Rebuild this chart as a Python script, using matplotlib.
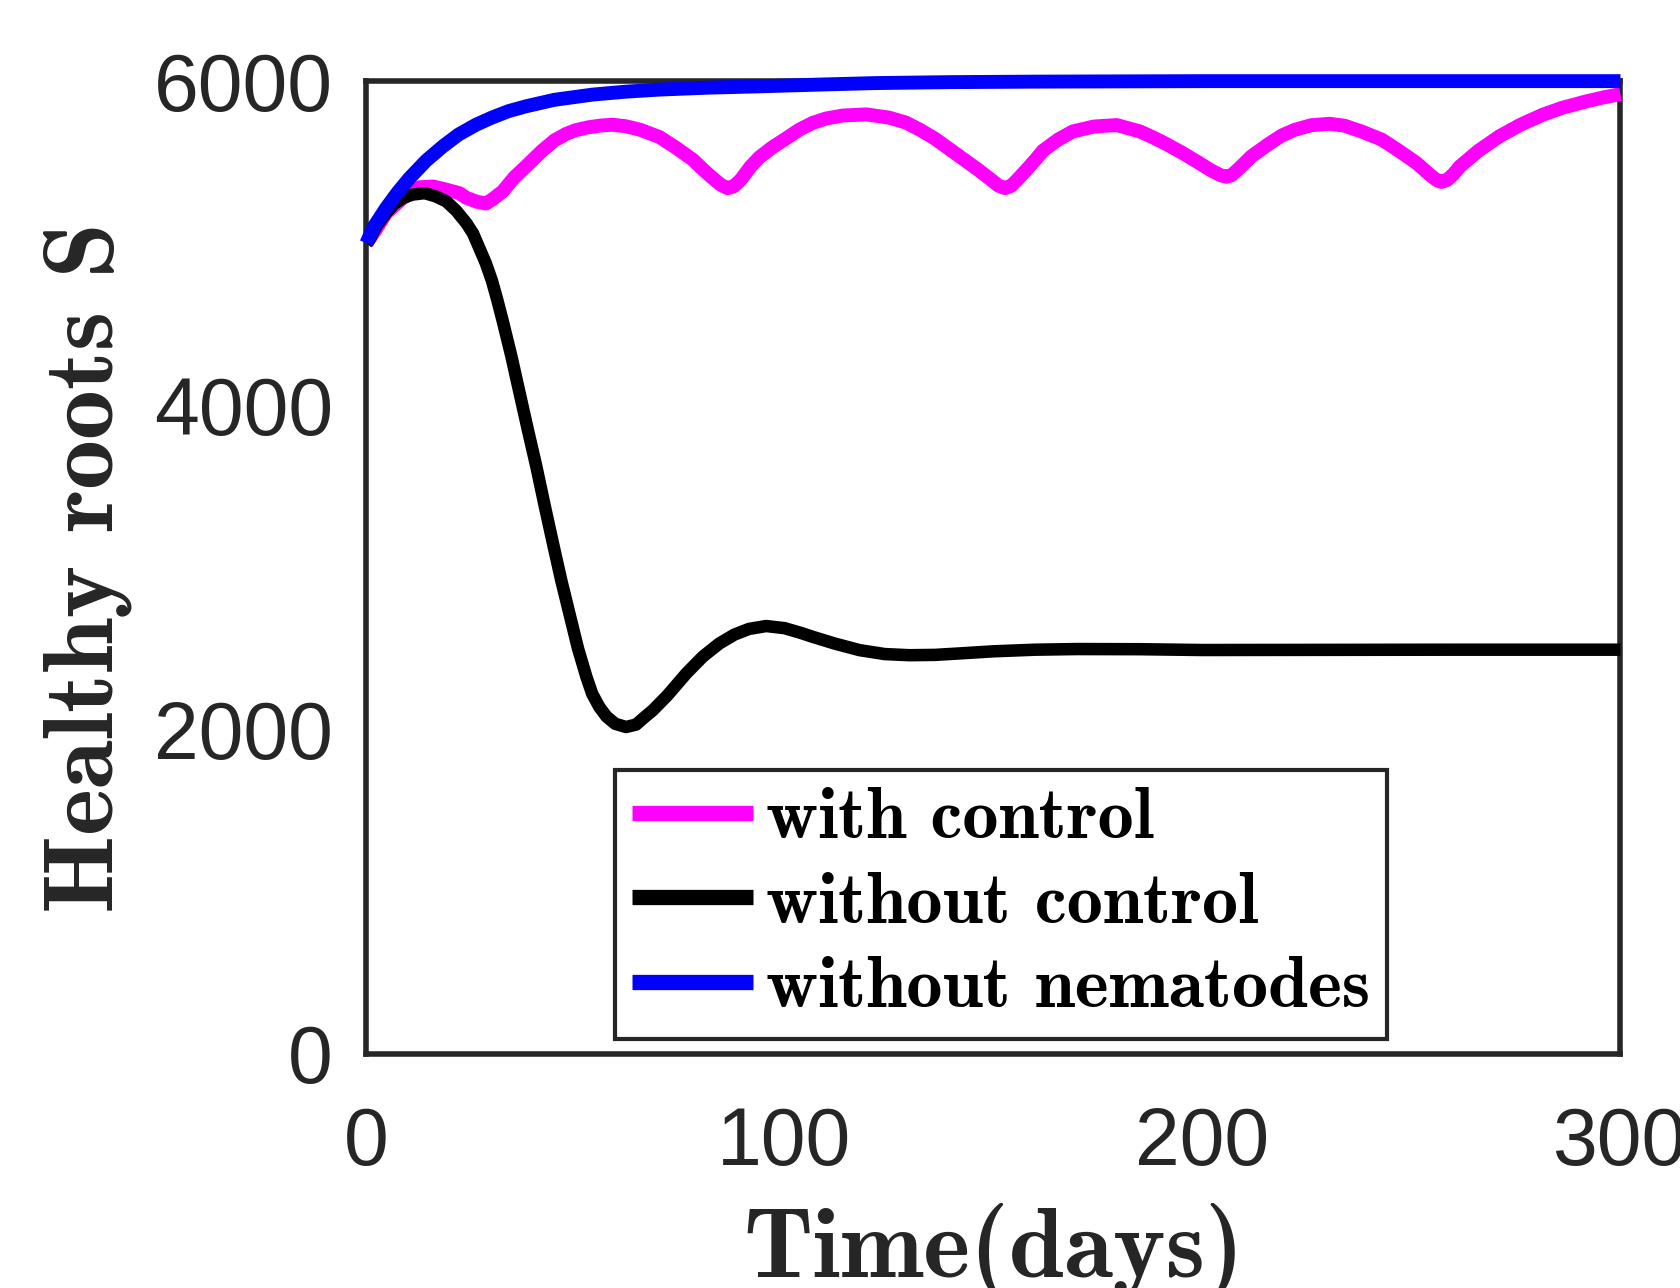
import matplotlib
matplotlib.use("Agg")
import matplotlib.pyplot as plt

# time (days) and healthy roots S
t_ctrl = [0, 2, 4.7, 8.7, 12.7, 15.9, 18.3, 22.2, 23.9, 26.5, 28.6, 30.2, 32.6, 35.5,
          38.2, 42, 45, 47.8, 50, 53, 56, 58.9, 62, 65.5, 70.1, 74, 78.1, 80.5, 82.9,
          84.8, 86.4, 87.8, 89.5, 91.8, 94, 97, 100.3, 103.5, 106.7, 110, 114, 119.6,
          125, 129, 132.4, 136, 139.5, 143, 146.5, 149.5, 151.2, 152.8, 154.3, 156,
          158.5, 160.2, 161.8, 165.5, 169, 174, 179.5, 185, 188, 190.9, 195, 199.2, 202,
          204.3, 205.7, 207, 208.7, 211.7, 216, 219, 222.1, 226, 230.4, 234, 238, 242.9,
          247, 251.2, 254.5, 256, 257.2, 258.5, 260, 261.6, 266, 271, 276, 281.4, 286,
          291.8, 296, 300]
s_ctrl = [5000, 5075, 5186, 5279, 5345, 5350, 5336, 5309, 5280, 5255, 5245, 5272, 5320,
          5410, 5475, 5570, 5635, 5675, 5697, 5715, 5726, 5731, 5722, 5700, 5655, 5590,
          5515, 5455, 5400, 5360, 5340, 5350, 5390, 5470, 5530, 5590, 5645, 5700, 5742,
          5770, 5788, 5795, 5775, 5745, 5700, 5645, 5580, 5515, 5450, 5390, 5355, 5340,
          5355, 5400, 5470, 5520, 5570, 5640, 5690, 5720, 5729, 5690, 5655, 5618, 5560,
          5495, 5450, 5420, 5410, 5420, 5460, 5536, 5615, 5665, 5700, 5728, 5737, 5725,
          5690, 5639, 5570, 5495, 5420, 5390, 5378, 5390, 5425, 5474, 5570, 5659, 5730,
          5793, 5835, 5875, 5900, 5920]

t_noctrl = [0, 0.7, 2.5, 4.7, 6.5, 8.7, 11, 13.9, 16.5, 19.1, 21.5, 23.9, 25.5, 27, 28.5,
            30, 31.3, 32.6, 34.6, 36.6, 38.6, 40.6, 42.6, 44.6, 46.6, 48.6, 50.6, 52.6,
            54, 55.7, 57.4, 59.5, 62.1, 64.5, 66.5, 68.5, 72, 76.5, 80.5, 84.4, 88, 91.5,
            95.6, 100, 104, 106.8, 112, 118, 124, 129.9, 136, 141.9, 150, 160, 170, 185,
            200, 230, 260, 300]
s_noctrl = [5000, 5021, 5110, 5186, 5240, 5279, 5300, 5309, 5290, 5258, 5200, 5124, 5060,
            4970, 4880, 4770, 4650, 4520, 4310, 4080, 3850, 3627, 3385, 3150, 2920, 2710,
            2500, 2326, 2220, 2139, 2080, 2035, 2015, 2030, 2075, 2118, 2210, 2345, 2450,
            2530, 2585, 2620, 2638, 2625, 2595, 2571, 2530, 2489, 2465, 2458, 2460, 2469,
            2482, 2492, 2496, 2495, 2490, 2491, 2492, 2492]

t_nonem = [0, 1.5, 3, 4.7, 7.5, 10.3, 14.3, 18.3, 22, 26.2, 30, 34, 38.2, 45, 54.1, 62,
           70.1, 82, 94, 110, 121.7, 140, 160, 200, 300]
s_nonem = [5000, 5090, 5150, 5217, 5315, 5402, 5510, 5598, 5670, 5731, 5775, 5815, 5845,
           5885, 5917, 5935, 5948, 5960, 5968, 5980, 5988, 5994, 5997, 6000, 6000]

labels = ['with control', 'without control', 'without nematodes']
gray = '#262626'
serif_b = ['cmb10', 'DejaVu Serif']

fig = plt.figure(figsize=(16.81, 12.88), dpi=100)
ax = fig.add_axes([0.218, 0.182, 0.746, 0.755])

kw = dict(solid_capstyle='butt', solid_joinstyle='round', zorder=3, clip_on=False)
ax.plot(t_ctrl, s_ctrl, color='#ff00ff', lw=10, label=labels[0], **kw)
ax.plot(t_noctrl, s_noctrl, color='black', lw=9, label=labels[1], **kw)
ax.plot(t_nonem, s_nonem, color='#0000ff', lw=10, label=labels[2], **kw)

ax.set_xlim(0, 300)
ax.set_ylim(0, 6000)
ax.set_xticks([0, 100, 200, 300])
ax.set_yticks([0, 2000, 4000, 6000])
for sp in ax.spines.values():
    sp.set_linewidth(4)
    sp.set_color(gray)
ax.tick_params(axis='both', length=0, labelsize=58, labelcolor=gray)
ax.tick_params(axis='x', pad=38)
ax.tick_params(axis='y', pad=24)
for lab in ax.get_xticklabels() + ax.get_yticklabels():
    lab.set_family('Liberation Sans')

ax.set_xlabel('Time(days)', family=serif_b, fontsize=72, color=gray, labelpad=15)
ax.set_ylabel('Healthy roots S', family=serif_b, fontsize=72, color=gray, labelpad=16)

leg = ax.legend(loc='lower left', bbox_to_anchor=(0.198, 0.0154), borderaxespad=0,
                prop=dict(family=serif_b, size=52), handlelength=1.68,
                handletextpad=0.17, labelspacing=0.27, borderpad=0.24,
                fancybox=False, framealpha=1)
leg.get_frame().set_edgecolor(gray)
leg.get_frame().set_linewidth(3)
for h in leg.get_lines():
    h.set_linewidth(11)

fig.savefig('out.png', dpi=100)
